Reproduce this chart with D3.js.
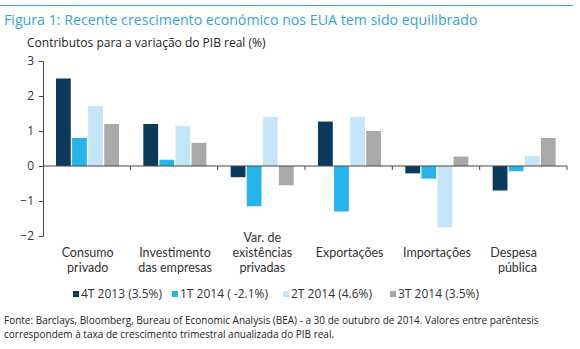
<!DOCTYPE html>
<html>
<head>
<meta charset="utf-8">
<script src="https://cdn.jsdelivr.net/npm/d3@7"></script>
<style>
    body { margin: 0; background: #fff; }
    svg { font-family: "Open Sans", sans-serif; }
</style>
</head>
<body>
<svg class="graph"></svg>
<script>
    // categorias e séries
    const categories = ["Consumo privado", "Investimento das empresas", "Var. de existências privadas",
        "Exportações", "Importações", "Despesa pública"];
    const categoryLines = [["Consumo", "privado"], ["Investimento", "das empresas"],
        ["Var. de", "existências", "privadas"], ["Exportações"], ["Importações"], ["Despesa", "pública"]];
    const seriesNames = ["4T 2013 (3.5%)", "1T 2014 ( -2.1%)", "2T 2014 (4.6%)", "3T 2014 (3.5%)"];
    const q4_2013 = [2.5, 1.2, -0.32, 1.27, -0.21, -0.7];
    const q1_2014 = [0.8, 0.18, -1.15, -1.3, -0.36, -0.15];
    const q2_2014 = [1.71, 1.14, 1.4, 1.4, -1.75, 0.29];
    const q3_2014 = [1.2, 0.66, -0.55, 1.0, 0.27, 0.8];
    const yTicks = [-2, -1, 0, 1, 2, 3];

    const seriesValues = [q4_2013, q1_2014, q2_2014, q3_2014];
    const colors = ["#0b3a5d", "#26b5ea", "#c3e5f7", "#a9a9a9"];

    const size = {width: 580, height: 349};
    const plot = {left: 43, right: 567, top: 61, bottom: 236};

    const svg = d3.select(".graph")
        .attr("width", size.width)
        .attr("height", size.height);

    // cabeçalho
    svg.append("line")
        .attr("x1", 0).attr("x2", 573)
        .attr("y1", 5.5).attr("y2", 5.5)
        .attr("stroke", "#3aa6d8")
        .attr("stroke-width", 1);

    svg.append("text")
        .attr("x", 4).attr("y", 25)
        .attr("font-size", 14.2)
        .attr("fill", "#35a3d6")
        .text("Figura 1: Recente crescimento económico nos EUA tem sido equilibrado");

    svg.append("text")
        .attr("x", 27).attr("y", 47)
        .attr("font-size", 12)
        .attr("fill", "#222")
        .text("Contributos para a variação do PIB real (%)");

    const x0 = d3.scaleBand()
        .domain(categories)
        .range([plot.left, plot.right]);

    const x1 = d3.scaleBand()
        .domain(seriesNames)
        .range([13, 76])
        .paddingInner(0.08);

    const y = d3.scaleLinear()
        .domain([-2, 3])
        .range([plot.bottom, plot.top]);

    // barras
    const groups = svg.append("g")
        .selectAll("g")
        .data(categories)
        .join("g")
        .attr("transform", d => `translate(${x0(d)},0)`);

    groups.selectAll("rect")
        .data((d, i) => seriesNames.map((s, j) => ({s, v: seriesValues[j][i], j})))
        .join("rect")
        .attr("x", d => x1(d.s))
        .attr("width", x1.bandwidth())
        .attr("y", d => y(Math.max(0, d.v)))
        .attr("height", d => Math.abs(y(d.v) - y(0)))
        .attr("fill", d => colors[d.j]);

    // eixo Y
    const yAxis = svg.append("g")
        .attr("transform", `translate(${plot.left},0)`)
        .call(d3.axisLeft(y).tickValues(yTicks).tickSize(4).tickPadding(5).tickFormat(d3.format("d")));
    yAxis.select(".domain").attr("stroke", "#444");
    yAxis.selectAll(".tick line").attr("stroke", "#444");
    yAxis.selectAll("text").attr("font-size", 12).attr("fill", "#333")
        .attr("font-family", "Open Sans, sans-serif");

    // eixo X (linha do zero + marcas entre categorias)
    const xAxis = svg.append("g");
    xAxis.append("line")
        .attr("x1", plot.left).attr("x2", plot.right)
        .attr("y1", y(0)).attr("y2", y(0))
        .attr("stroke", "#444");
    xAxis.selectAll(".tick")
        .data(categories)
        .join("line")
        .attr("x1", d => x0(d) + x0.bandwidth())
        .attr("x2", d => x0(d) + x0.bandwidth())
        .attr("y1", y(0)).attr("y2", y(0) + 4)
        .attr("stroke", "#444");

    // rótulos das categorias
    const lineH = 15;
    const labels = svg.append("g")
        .attr("font-family", "Lato, sans-serif")
        .attr("font-size", 12.5)
        .attr("fill", "#333");
    categories.forEach((c, i) => {
        const lines = categoryLines[i];
        const last = i === categories.length - 1;
        const cx = last ? x0(c) + x0.bandwidth() - 30 : x0(c) + x0.bandwidth() / 2 + 1;
        const startY = 257 - (lines.length >= 3 ? lineH : 0);
        const t = labels.append("text")
            .attr("text-anchor", last ? "end" : "middle");
        lines.forEach((l, k) => {
            t.append("tspan")
                .attr("x", cx)
                .attr("y", startY + k * lineH)
                .text(l);
        });
    });

    // legenda
    const legendX = [73, 172, 283, 390];
    const legend = svg.append("g")
        .attr("font-size", 12)
        .attr("fill", "#333");
    seriesNames.forEach((s, j) => {
        legend.append("rect")
            .attr("x", legendX[j]).attr("y", 291)
            .attr("width", 6).attr("height", 6)
            .attr("fill", colors[j]);
        legend.append("text")
            .attr("x", legendX[j] + 8).attr("y", 298)
            .text(s);
    });

    // fonte
    const note = svg.append("g")
        .attr("font-size", 10)
        .attr("fill", "#222");
    note.append("text").attr("x", 4).attr("y", 324)
        .text("Fonte: Barclays, Bloomberg, Bureau of Economic Analysis (BEA) - a 30 de outubro de 2014. Valores entre parêntesis");
    note.append("text").attr("x", 4).attr("y", 338)
        .text("correspondem à taxa de crescimento trimestral anualizada do PIB real.");
</script>
</body>
</html>
